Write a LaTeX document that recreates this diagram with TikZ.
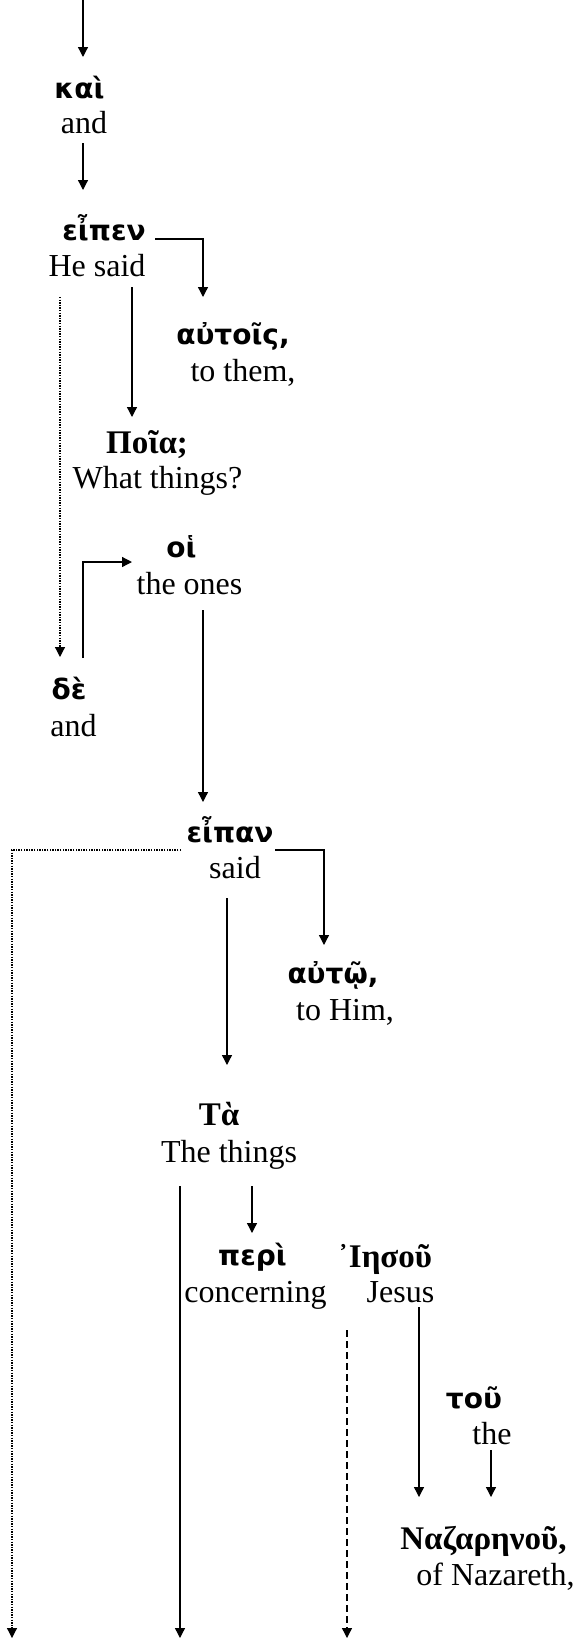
\documentclass[tikz,border=0pt]{standalone}
\usepackage{fontspec}
\setmainfont{Liberation Serif}
\newfontfamily\grsans[Script=Greek]{DejaVu Sans}
\newfontfamily\grserif[Script=Greek]{Liberation Serif}
\usetikzlibrary{arrows.meta,calc}
\tikzset{
  en/.style={anchor=base, inner sep=0pt, font=\fontsize{32}{38}\selectfont},
  gs/.style={anchor=base, inner sep=0pt, font=\grsans\bfseries\fontsize{28}{33}\selectfont},
  gr/.style={anchor=base, inner sep=0pt, font=\grserif\bfseries\fontsize{33}{39}\selectfont},
  arr/.style={line width=1.3pt, -{Triangle[width=10pt,length=10pt]}},
  dotline/.style={line width=1.2pt, dash pattern=on 1.4pt off 1.2pt},
  dashline/.style={dash pattern=on 7pt off 4pt}
}
\begin{document}
\begin{tikzpicture}[x=1pt,y=-1pt]
\useasboundingbox (0,0) rectangle (579,1639);
\node[gs] (kai) at (79.5,98) {καὶ};
\node[en] (and1) at (84,133) {and};
\node[gs] (ei) at (104,240) {εἶπεν};
\node[en] (hesaid) at (97,276) {He said};
\node[gs] (autois) at (233,344) {αὐτοῖς,};
\node[en] (tothem) at (243,381) {to them,};
\node[gr] (poia) at (147,453) {Ποῖα;};
\node[en] (what) at (157.5,488) {What things?};
\node[gs] (hoi) at (181.5,557) {οἱ};
\node[en] (ones) at (189.5,594) {the ones};
\node[gs] (de) at (69,699) {δὲ};
\node[en] (and2) at (73.5,736) {and};
\node[gs] (eipan) at (230,842) {εἶπαν};
\node[en] (said) at (235,878) {said};
\node[gs] (auto) at (333,983) {αὐτῷ,};
\node[en] (tohim) at (345,1020) {to Him,};
\node[gr] (ta) at (219,1125) {Τὰ};
\node[en] (things) at (229,1162) {The things};
\node[gs] (peri) at (252.5,1265) {περὶ};
\node[en] (conc) at (255.5,1302) {concerning};
\node[gr] (iesou) at (385,1267) {᾿Ιησοῦ};
\node[en] (jesus) at (400.5,1302) {Jesus};
\node[gs] (tou) at (474,1408) {τοῦ};
\node[en] (the) at (492,1444) {the};
\node[gr] (naz) at (483.5,1549) {Ναζαρηνοῦ,};
\node[en] (nazareth) at (495.5,1585) {of Nazareth,};
\coordinate (top) at (83,0);
\coordinate (bot1) at (12,1638);
\coordinate (bot2) at (180,1638);
\coordinate (bot3) at (347,1638);
\draw[arr] (top) -- ($(kai.base)+(3.5,-41)$);
\draw[arr] ($(and1.base)+(-1,10)$) -- ($(ei.base)+(-21,-50)$);
\draw[arr] ($(ei.base)+(51,-1)$) -| ($(autois.base)+(-30,-47)$);
\draw[arr] ($(hesaid.base)+(35,11)$) -- ($(poia.base)+(-15,-36)$);
\draw[arr,dotline] ($(hesaid.base)+(-37,21)$) -- ($(de.base)+(-9,-42)$);
\draw[arr] ($(de.base)+(14,-41)$) |- ($(hoi.base)+(-49.5,5)$);
\draw[arr] ($(ones.base)+(13.5,16)$) -- ($(eipan.base)+(-27,-40)$);
\draw[arr,dotline] ($(eipan.base)+(-49,8)$) -| (bot1);
\draw[arr] ($(eipan.base)+(45,8)$) -| ($(auto.base)+(-9,-38)$);
\draw[arr] ($(said.base)+(-8,20)$) -- ($(ta.base)+(8,-60)$);
\draw[arr] ($(things.base)+(-49,24)$) -- (bot2);
\draw[arr] ($(things.base)+(23,24)$) -- ($(peri.base)+(-0.5,-32)$);
\draw[arr,dashline] ($(iesou.base)+(-38,63)$) -- (bot3);
\draw[arr] ($(jesus.base)+(18.5,5)$) -- ($(naz.base)+(-64.5,-52)$);
\draw[arr] ($(the.base)+(-1,6)$) -- ($(naz.base)+(7.5,-52)$);
\end{tikzpicture}
\end{document}
